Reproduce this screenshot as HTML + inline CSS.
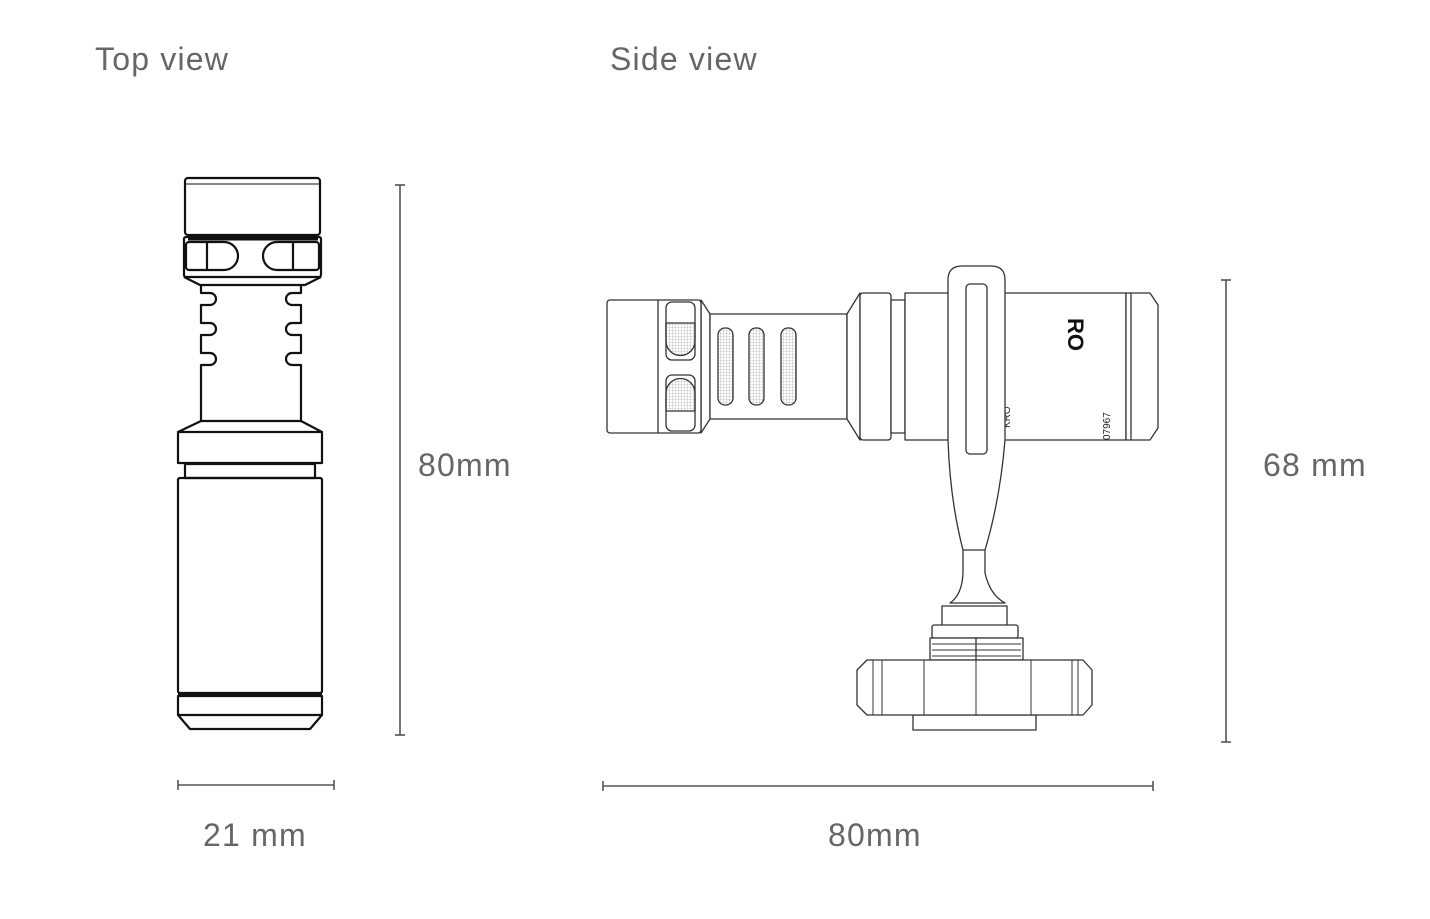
<!DOCTYPE html>
<html><head><meta charset="utf-8"><style>
body{margin:0;background:#fff;width:1430px;height:919px;overflow:hidden}
svg{display:block}
text{font-family:"Liberation Sans",sans-serif;fill:#666;font-size:32px;letter-spacing:1.2px}
</style></head><body>
<svg width="1430" height="919" viewBox="0 0 1430 919">
<text x="95" y="70">Top view</text>
<text x="610" y="70">Side view</text>
<g fill="none" stroke="#111" stroke-width="2.2" stroke-linejoin="round">
<!-- top view -->
<rect x="185" y="178" width="135" height="57" rx="3"/>
<line x1="186" y1="184" x2="319" y2="184" stroke-width="1"/>
<rect x="184" y="237" width="137" height="40" rx="2"/>
<line x1="188" y1="239" x2="318" y2="239" stroke-width="3"/>
<path d="M189 242 h35 a14 14 0 0 1 0 28 h-35 a3 3 0 0 1 -3 -3 v-22 a3 3 0 0 1 3 -3z"/>
<line x1="207" y1="242" x2="207" y2="270"/>
<path d="M316 242 h-39 a14 14 0 0 0 0 28 h39 a3 3 0 0 0 3 -3 v-22 a3 3 0 0 0 -3 -3z"/>
<line x1="293" y1="242" x2="293" y2="270"/>
<path d="M184 277 L200 285 L305 285 L321 277"/>
<path d="M201 285 V293 H210 a6 6 0 0 1 0 12 H201 V323 H210 a6 6 0 0 1 0 12 H201 V353 H210 a6 6 0 0 1 0 12 H201 V421"/>
<path d="M301 285 V293 H292 a6 6 0 0 0 0 12 H301 V323 H292 a6 6 0 0 0 0 12 H301 V353 H292 a6 6 0 0 0 0 12 H301 V421"/>
<line x1="201" y1="421" x2="301" y2="421"/>
<path d="M201 421 L178 432 V463 H322 V432 L301 421"/>
<line x1="178" y1="432" x2="322" y2="432"/>
<rect x="185" y="464" width="130" height="14"/>
<rect x="178" y="478" width="144" height="215" rx="2"/>
<line x1="178" y1="694" x2="322" y2="694" stroke-width="3"/>
<path d="M178 696 H322 V715 L310 729 H190 L178 715 Z"/>
<line x1="178" y1="715" x2="322" y2="715"/>
</g>
<g fill="none" stroke="#555" stroke-width="1.6">
<!-- dims -->
<line x1="400" y1="185" x2="400" y2="735"/><line x1="395" y1="185" x2="405" y2="185"/><line x1="395" y1="735" x2="405" y2="735"/>
<line x1="178" y1="785" x2="334" y2="785"/><line x1="178" y1="780" x2="178" y2="790"/><line x1="334" y1="780" x2="334" y2="790"/>
<line x1="1226" y1="280" x2="1226" y2="742"/><line x1="1221" y1="280" x2="1231" y2="280"/><line x1="1221" y1="742" x2="1231" y2="742"/>
<line x1="603" y1="786" x2="1153" y2="786"/><line x1="603" y1="781" x2="603" y2="791"/><line x1="1153" y1="781" x2="1153" y2="791"/>
</g>
<text x="418" y="476">80mm</text>
<text x="203" y="846">21 mm</text>
<text x="1263" y="476">68 mm</text>
<text x="828" y="846">80mm</text>
<defs><pattern id="m" width="3" height="3" patternUnits="userSpaceOnUse"><path d="M0 0H3M0 0V3" stroke="#999" stroke-width="0.6"/></pattern></defs>
<g fill="#fff" stroke="#333" stroke-width="1.3" stroke-linejoin="round">
<!-- side view mic -->
<path d="M701 300 L710 314 V419 L701 433Z"/>
<rect x="607" y="300" width="94" height="133" rx="3"/>
<line x1="658" y1="300" x2="658" y2="433"/>
<rect x="666" y="302" width="29" height="58" rx="6"/>
<rect x="666" y="375" width="29" height="56" rx="6"/>
<path d="M666 323 h29 v18 a14 14 0 0 1 -29 0z" fill="url(#m)"/>
<path d="M666 411 h29 v-18 a14 14 0 0 0 -29 0z" fill="url(#m)"/>
<rect x="710" y="314" width="137" height="105"/>
<rect x="718" y="328" width="15" height="77" rx="7" fill="url(#m)"/>
<rect x="749" y="328" width="15" height="77" rx="7" fill="url(#m)"/>
<rect x="781" y="328" width="15" height="77" rx="7" fill="url(#m)"/>
<path d="M847 314 L860 293 V440 L847 419Z"/>
<rect x="860" y="293" width="31" height="147" rx="3"/>
<rect x="891" y="300" width="14" height="133"/>
<rect x="905" y="293" width="221" height="147"/>
<path d="M1126 293 H1150 L1158 305 V428 L1150 440 H1126Z"/>
<line x1="1131" y1="293" x2="1131" y2="440"/>
<text x="1068" y="318" transform="rotate(90 1068 318)" style="font-size:22px;font-weight:bold;fill:#111;stroke:none;letter-spacing:0">RO</text>
<text x="1010" y="428" transform="rotate(-90 1010 428)" style="font-size:10px;fill:#222;stroke:none;letter-spacing:0">KRO</text>
<text x="1110" y="440" transform="rotate(-90 1110 440)" style="font-size:10px;fill:#222;stroke:none;letter-spacing:0">07967</text>
<!-- clip -->
<path d="M948 440 V280 Q948 266 962 266 H991 Q1005 266 1005 280 V440 Q1000 500 985 550 V573 Q990 595 1005 603 H950 Q962 595 963 573 V550 Q950 500 948 440Z"/>
<rect x="966" y="284" width="21" height="170" rx="4"/>
<line x1="963" y1="550" x2="985" y2="550"/>
<rect x="942" y="606" width="65" height="20"/>
<rect x="932" y="625" width="86" height="13" rx="2"/>
<rect x="930" y="638" width="93" height="22"/>
<path d="M932 644 H1021 M932 650 H1021 M932 656 H1021" stroke-width="1"/>
<line x1="976" y1="638" x2="976" y2="660"/>
<rect x="913" y="715" width="123" height="15"/>
<path d="M867 660 H1083 L1092 670 V705 L1083 715 H867 L857 705 V670Z"/>
<path d="M873 660 V715 M882 660 V715 M924 660 V715 M976 660 V715 M1031 660 V715 M1072 660 V715 M1078 660 V715" stroke-width="1"/>
</g>
</svg>
</body></html>
